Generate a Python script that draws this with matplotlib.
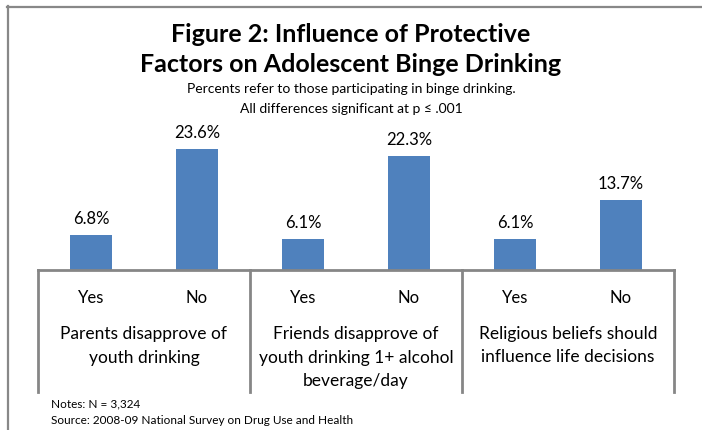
import matplotlib
matplotlib.use("Agg")
import matplotlib.pyplot as plt
from matplotlib.lines import Line2D

plt.rcParams['font.family'] = ['Lato', 'DejaVu Sans']

# data
answers = ["Yes", "No", "Yes", "No", "Yes", "No"]
percents = [6.8, 23.6, 6.1, 22.3, 6.1, 13.7]
groups = [
    ["Parents disapprove of", "youth drinking"],
    ["Friends disapprove of", "youth drinking 1+ alcohol", "beverage/day"],
    ["Religious beliefs should", "influence life decisions"],
]
title_lines = ["Figure 2: Influence of Protective", "Factors on Adolescent Binge Drinking"]
subtitle_lines = ["Percents refer to those participating in binge drinking.",
                  "All differences significant at p \u2264 .001"]
notes = ["Notes: N = 3,324", "Source: 2008-09 National Survey on Drug Use and Health"]

W, H = 702, 431
bar_color = "#4F81BD"
line_gray = "#868686"

fig = plt.figure(figsize=(W / 100, H / 100), dpi=100)

# outer frame (left and top only)
fig.add_artist(Line2D([7.5 / W, 7.5 / W], [0, 1 - 7 / H], color="#888888", lw=1.6))
fig.add_artist(Line2D([7 / W, 1], [1 - 7.5 / H, 1 - 7.5 / H], color="#888888", lw=1.6))

# plot area: baseline at y=271 px, x from 38 to 674 px
ymax = 25
px_per_unit = 121 / 23.6
ax_h = ymax * px_per_unit
ax = fig.add_axes([38 / W, (H - 271) / H, (674 - 38) / W, ax_h / H])
ax.set_xlim(-0.5, len(percents) - 0.5)
ax.set_ylim(0, ymax)

x = list(range(len(percents)))
ax.bar(x, percents, width=0.4, color=bar_color, zorder=2)

for xi, v in zip(x, percents):
    ax.annotate(f"{v}%", xy=(xi, v), xytext=(0, 9), textcoords="offset pixels",
                ha="center", va="bottom", fontsize=12)

for s in ["top", "right", "left"]:
    ax.spines[s].set_visible(False)
ax.spines["bottom"].set_color(line_gray)
ax.spines["bottom"].set_linewidth(2)
ax.set_xticks([])
ax.set_yticks([])

# group dividers below the axis
below = -122 / ax_h
for dx in [-0.5, 1.5, 3.5, 5.5]:
    ax.plot([dx, dx], [0, below], transform=ax.get_xaxis_transform(),
            color=line_gray, lw=2, clip_on=False)

# Yes / No labels
for xi, a in zip(x, answers):
    ax.annotate(a, xy=(xi, 0), xytext=(0, -27), textcoords="offset pixels",
                ha="center", va="center", fontsize=12)

# group labels
for gi, lines in enumerate(groups):
    cx = gi * 2 + 0.5
    for li, t in enumerate(lines):
        ax.annotate(t, xy=(cx, 0), xytext=(0, -63 - 23.5 * li), textcoords="offset pixels",
                    ha="center", va="center", fontsize=12.5)

# titles
fig.text(351 / W, 1 - 34 / H, title_lines[0], ha="center", va="center",
         fontsize=18, fontweight="bold")
fig.text(351 / W, 1 - 65 / H, title_lines[1], ha="center", va="center",
         fontsize=18, fontweight="bold")
fig.text(351 / W, 1 - 89 / H, subtitle_lines[0], ha="center", va="center", fontsize=10)
fig.text(351 / W, 1 - 109 / H, subtitle_lines[1], ha="center", va="center", fontsize=10)

# notes
fig.text(51 / W, 1 - 404 / H, notes[0], ha="left", va="center", fontsize=8.5)
fig.text(51 / W, 1 - 421 / H, notes[1], ha="left", va="center", fontsize=8.5)

fig.savefig("out.png", dpi=100)
